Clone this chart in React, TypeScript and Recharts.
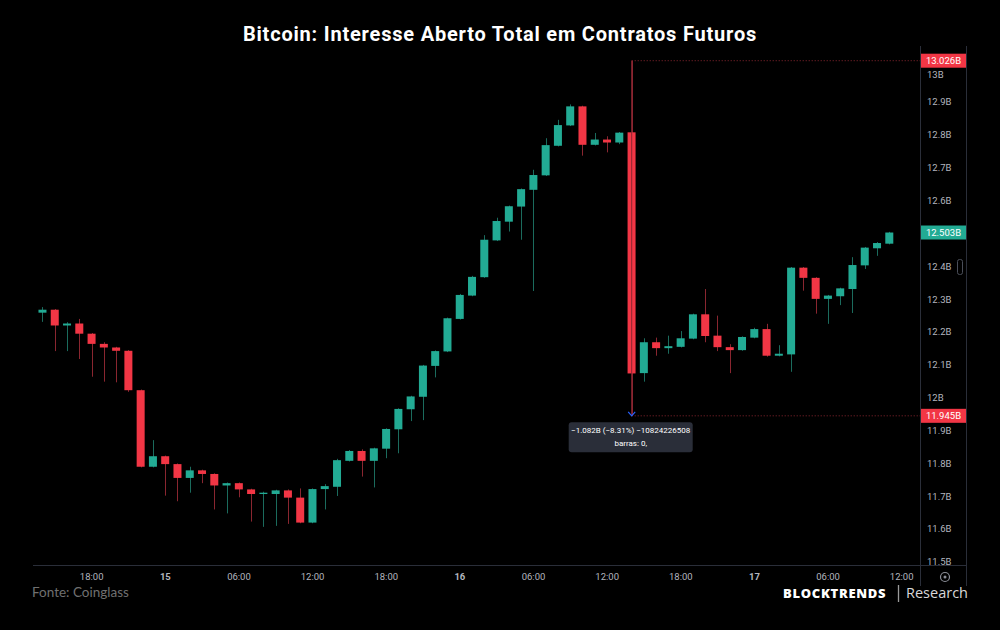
import React from "react";
import { ComposedChart, Bar, XAxis, YAxis, ReferenceLine, ReferenceDot } from "recharts";

// hourly candles, hour index counted from 00:00 of day 14
const hours = [
  14, 15, 16, 17, 18, 19, 20, 21, 22, 23,
  24, 25, 26, 27, 28, 29, 30, 31, 32, 33, 34, 35, 36, 37, 38, 39, 40, 41, 42, 43, 44, 45, 46, 47,
  48, 49, 50, 51, 52, 53, 54, 55, 56, 57, 58, 59, 60, 61, 62, 63, 64, 65, 66, 67, 68, 69, 70, 71,
  72, 73, 74, 75, 76, 77, 78, 79, 80, 81, 82, 83,
];
const opens = [
  12.259, 12.268, 12.22, 12.226, 12.195, 12.164, 12.153, 12.143, 12.023, 11.79,
  11.822, 11.798, 11.756, 11.779, 11.768, 11.733, 11.74, 11.721, 11.707, 11.707, 11.718, 11.696, 11.62, 11.722,
  11.729, 11.808, 11.838, 11.808, 11.845, 11.904, 11.965, 12.003, 12.097, 12.141, 12.24, 12.311,
  12.367, 12.479, 12.536, 12.582, 12.633, 12.677, 12.767, 12.829, 12.887, 12.77, 12.786, 12.777,
  12.808, 12.075, 12.169, 12.151, 12.155, 12.18, 12.254, 12.189, 12.154, 12.145,
  12.183, 12.209, 12.128, 12.132, 12.396, 12.365, 12.301, 12.309, 12.331, 12.403, 12.455, 12.469,
];
const highs = [
  12.276, 12.27, 12.23, 12.24, 12.197, 12.169, 12.155, 12.145, 12.025, 11.871,
  11.824, 11.8, 11.79, 11.781, 11.77, 11.742, 11.742, 11.723, 11.714, 11.72, 11.721, 11.724, 11.724, 11.737,
  11.814, 11.841, 11.843, 11.848, 11.907, 11.968, 12.006, 12.1, 12.144, 12.244, 12.316, 12.371,
  12.495, 12.548, 12.585, 12.637, 12.694, 12.79, 12.846, 12.893, 12.889, 12.806, 12.796, 12.809,
  13.026, 12.181, 12.183, 12.189, 12.203, 12.256, 12.331, 12.25, 12.163, 12.187,
  12.213, 12.225, 12.16, 12.398, 12.398, 12.367, 12.313, 12.335, 12.428, 12.459, 12.474, 12.505,
];
const lows = [
  12.231, 12.142, 12.142, 12.118, 12.064, 12.049, 12.047, 12.018, 11.788, 11.788,
  11.702, 11.685, 11.711, 11.74, 11.66, 11.648, 11.697, 11.623, 11.607, 11.61, 11.616, 11.618, 11.618, 11.66,
  11.701, 11.806, 11.76, 11.727, 11.816, 11.831, 11.929, 11.932, 12.062, 12.139, 12.238, 12.309,
  12.365, 12.477, 12.506, 12.481, 12.325, 12.675, 12.765, 12.827, 12.737, 12.768, 12.747, 12.772,
  11.945, 12.049, 12.128, 12.134, 12.153, 12.178, 12.169, 12.142, 12.075, 12.143,
  12.181, 12.125, 12.126, 12.079, 12.326, 12.256, 12.225, 12.282, 12.258, 12.392, 12.432, 12.467,
];
const closes = [
  12.268, 12.22, 12.226, 12.195, 12.164, 12.153, 12.143, 12.023, 11.79, 11.822,
  11.798, 11.756, 11.779, 11.768, 11.733, 11.74, 11.721, 11.707, 11.711, 11.718, 11.696, 11.62, 11.722, 11.731,
  11.81, 11.838, 11.808, 11.846, 11.905, 11.966, 12.004, 12.098, 12.142, 12.242, 12.313, 12.368,
  12.481, 12.538, 12.583, 12.635, 12.678, 12.769, 12.83, 12.887, 12.77, 12.786, 12.777, 12.807,
  12.074, 12.169, 12.151, 12.157, 12.181, 12.254, 12.188, 12.154, 12.145, 12.185,
  12.209, 12.128, 12.134, 12.396, 12.365, 12.301, 12.311, 12.333, 12.404, 12.457, 12.471, 12.503,
];

const xTicks = [18, 24, 30, 36, 42, 48, 54, 60, 66, 72, 78, 84];
const xTickLabels = ["18:00", "15", "06:00", "12:00", "18:00", "16", "06:00", "12:00", "18:00", "17", "06:00", "12:00"];
const dayLabels = ["15", "16", "17"];
// 12.5B sits under the last-price tag in the reference, so it is not listed
const yTicks = [11.5, 11.6, 11.7, 11.8, 11.9, 12, 12.1, 12.2, 12.3, 12.4, 12.6, 12.7, 12.8, 12.9, 13];

const measureHour = 62;
const measureHigh = 13.026;
const measureLow = 11.945;
const lastPrice = 12.503;
const measureText = "\u22121.082B (\u22128.31%) \u221210824226508";

const X_DOMAIN = [13.217, 85.491];
const Y_DOMAIN = [11.4909, 13.0738];

const UP = "#22ab94";
const DOWN = "#f23645";
const UP_WICK = "#1b6b5d";
const DOWN_WICK = "#8a2630";
const AXIS_TXT = "#b2b5be";
const LINE = "#2a2e39";

const data = hours.map((h, i) => ({
  h,
  open: opens[i],
  high: highs[i],
  low: lows[i],
  close: closes[i],
  range: [lows[i], highs[i]],
}));

const Candle = (props: any) => {
  const { x, y, width, height, payload } = props;
  if (!payload) return null;
  const { open, close, high, low } = payload;
  const top = height >= 0 ? y : y + height;
  const h = Math.abs(height);
  const k = h / (high - low);
  const up = close >= open;
  const bodyTop = top + (high - Math.max(open, close)) * k;
  const bodyH = Math.max(1, Math.abs(close - open) * k);
  const cx = Math.round(x + width / 2) + 0.5;
  return (
    <g>
      <line x1={cx} x2={cx} y1={top} y2={top + h} stroke={up ? UP_WICK : DOWN_WICK} strokeWidth={1} />
      <rect x={x} y={bodyTop} width={width} height={bodyH} fill={up ? UP : DOWN} />
    </g>
  );
};

const XTick = ({ x, y, payload }: any) => {
  const label = xTickLabels[xTicks.indexOf(payload.value)];
  const bold = dayLabels.includes(label);
  return (
    <text x={x} y={y} dy="0.71em" textAnchor="middle" fill={AXIS_TXT} fontSize={9.5}
      fontWeight={bold ? 700 : 400} fontFamily="Roboto, sans-serif">
      {label}
    </text>
  );
};

const YTick = ({ x, y, payload }: any) => {
  // 13B is pushed down a little below the high tag, as in the reference
  const shift = payload.value === 13 ? 5 : 0;
  return (
    <text x={x - 1} y={y + shift} dy="0.35em" textAnchor="start" fill={AXIS_TXT} fontSize={9.5} fontFamily="Roboto, sans-serif">
      {`${+payload.value.toFixed(1)}B`}
    </text>
  );
};

const priceTag = (label: string, color: string) => (p: any) => (
  <g>
    <rect x={p.cx + 1} y={p.cy - 7} width={45} height={14} fill={color} />
    <text x={p.cx + 23.5} y={p.cy} dy="0.35em" textAnchor="middle" fill="#fff" fontSize={9.5} fontFamily="Roboto, sans-serif">
      {label}
    </text>
  </g>
);

const MeasureBox = (p: any) => (
  <g>
    <polyline points={`${p.cx - 3.5},${p.cy - 4} ${p.cx},${p.cy} ${p.cx + 3.5},${p.cy - 4}`} fill="none" stroke="#2962ff" strokeWidth={1.2} />
    <rect x={p.cx - 63} y={p.cy + 6.5} width={124} height={30} rx={3} fill="#2a2e39" />
    <text x={p.cx - 1} y={p.cy + 14.5} dy="0.35em" textAnchor="middle" fill="#fff" fontSize={8} fontFamily="Roboto, sans-serif">
      {measureText}
    </text>
    <text x={p.cx - 1} y={p.cy + 27} dy="0.35em" textAnchor="middle" fill="#fff" fontSize={8} fontFamily="Roboto, sans-serif">
      barras: 0,
    </text>
  </g>
);

export default function App() {
  return (
    <div style={{ position: "absolute", left: 0, top: 0, width: 1000, height: 630, background: "#000", overflow: "hidden" }}>
      <svg width={1000} height={630} style={{ position: "absolute", left: 0, top: 0 }}>
        <line x1={33} x2={967} y1={565.5} y2={565.5} stroke={LINE} />
        <line x1={920.5} x2={920.5} y1={46} y2={586} stroke={LINE} />
        <line x1={966.5} x2={966.5} y1={46} y2={586} stroke={LINE} />
      </svg>
      <div style={{ position: "absolute", left: 0, top: 0 }}>
        <ComposedChart width={1000} height={630} data={data} margin={{ top: 45, right: 33, bottom: 40, left: 33 }}>
          <XAxis dataKey="h" type="number" domain={X_DOMAIN} allowDataOverflow ticks={xTicks}
            tick={<XTick />} tickLine={false} axisLine={false} height={25} interval={0} />
          <YAxis orientation="right" type="number" domain={Y_DOMAIN} allowDataOverflow ticks={yTicks}
            tick={<YTick />} tickLine={false} axisLine={false} width={47} interval={0} />
          <Bar dataKey="range" barSize={8} shape={<Candle />} isAnimationActive={false} />
          <ReferenceLine segment={[{ x: measureHour, y: measureHigh }, { x: measureHour, y: measureLow }]}
            stroke={DOWN_WICK} strokeWidth={1} ifOverflow="visible" />
          <ReferenceLine segment={[{ x: measureHour, y: measureHigh }, { x: X_DOMAIN[1], y: measureHigh }]}
            stroke={DOWN_WICK} strokeDasharray="1 2" ifOverflow="visible" />
          <ReferenceLine segment={[{ x: measureHour, y: measureLow }, { x: X_DOMAIN[1], y: measureLow }]}
            stroke={DOWN_WICK} strokeDasharray="1 2" ifOverflow="visible" />
          <ReferenceDot x={measureHour} y={measureLow} ifOverflow="visible" shape={MeasureBox} />
        </ComposedChart>
      </div>
      {/* second layer with the same scales so the price tags sit above the axis labels */}
      <div style={{ position: "absolute", left: 0, top: 0, pointerEvents: "none" }}>
        <ComposedChart width={1000} height={630} data={data} margin={{ top: 45, right: 80, bottom: 65, left: 33 }}>
          <XAxis dataKey="h" type="number" domain={X_DOMAIN} allowDataOverflow hide />
          <YAxis type="number" domain={Y_DOMAIN} allowDataOverflow hide />
          <ReferenceDot x={X_DOMAIN[1]} y={measureHigh} ifOverflow="visible" shape={priceTag("13.026B", DOWN)} />
          <ReferenceDot x={X_DOMAIN[1]} y={measureLow} ifOverflow="visible" shape={priceTag("11.945B", DOWN)} />
          <ReferenceDot x={X_DOMAIN[1]} y={lastPrice} ifOverflow="visible" shape={priceTag("12.503B", UP)} />
        </ComposedChart>
      </div>
      <svg width={1000} height={630} style={{ position: "absolute", left: 0, top: 0, pointerEvents: "none" }}>
        <text x={500} y={41} textAnchor="middle" fill="#fff" fontSize={20} fontWeight={700} letterSpacing={0.8}
          fontFamily="Roboto, sans-serif">
          Bitcoin: Interesse Aberto Total em Contratos Futuros
        </text>
        <rect x={957.5} y={259.5} width={5} height={15} rx={2} fill="none" stroke="#4a4e59" />
        <circle cx={945} cy={577} r={4.5} fill="none" stroke="#8a8d96" strokeWidth={1.2} />
        <circle cx={945} cy={577} r={1.5} fill="#8a8d96" />
        <text x={32} y={597} fill="#707070" fontSize={13.5} fontFamily="Lato, sans-serif">Fonte: Coinglass</text>
        <text x={783} y={598} fill="#fff" fontSize={13} fontWeight={800} letterSpacing={0.7} fontFamily="'Open Sans', sans-serif">
          BLOCKTRENDS
        </text>
        <line x1={898.5} x2={898.5} y1={585} y2={602} stroke="#9a9a9a" strokeWidth={1.3} />
        <text x={906} y={598} fill="#d8d8d8" fontSize={14.5} fontFamily="'Open Sans', sans-serif">Research</text>
      </svg>
    </div>
  );
}
